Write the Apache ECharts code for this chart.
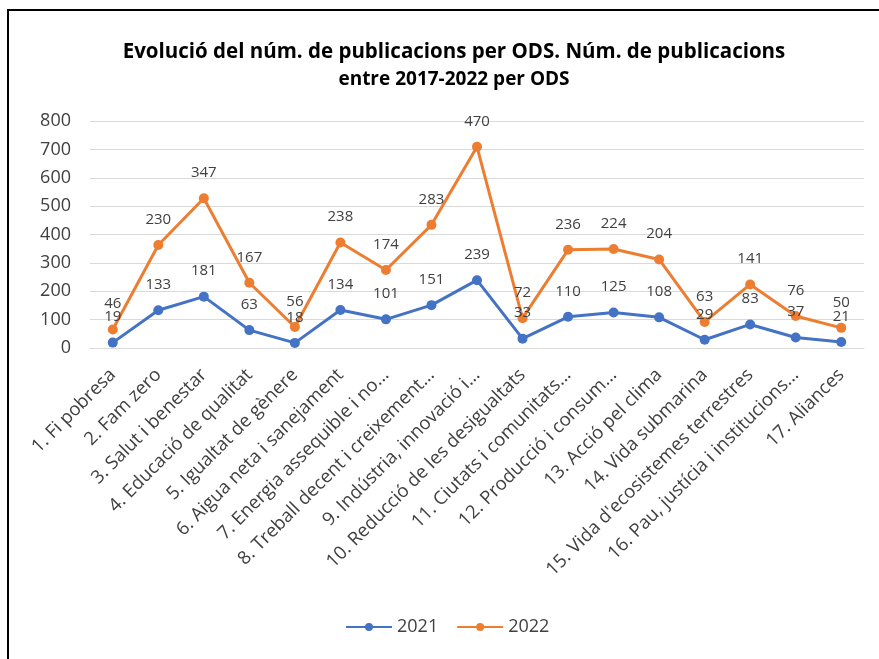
<!DOCTYPE html>
<html>
<head>
<meta charset="utf-8">
<script src="https://cdn.jsdelivr.net/npm/echarts@6/dist/echarts.min.js"></script>
<style>
  html, body { margin: 0; padding: 0; background: #fff; }
  #chart { width: 879px; height: 659px; }
</style>
</head>
<body>
<div id="chart"></div>
<script>
// categories (ODS) as shown on the axis
const categories = [
  '1. Fi pobresa', '2. Fam zero', '3. Salut i benestar', '4. Educació de qualitat',
  '5. Igualtat de gènere', '6. Aigua neta i sanejament', '7. Energia assequible i no...',
  '8. Treball decent i creixement...', '9. Indústria, innovació i...',
  '10. Reducció de les desigualtats', '11. Ciutats i comunitats...',
  '12. Producció i consum...', '13. Acció pel clima', '14. Vida submarina',
  "15. Vida d'ecosistemes terrestres", '16. Pau, justícia i institucions...', '17. Aliances'
]

// values per year (2022 is stacked over 2021)
const values2021 = [19, 133, 181, 63, 18, 134, 101, 151, 239, 33, 110, 125, 108, 29, 83, 37, 21]
const values2022 = [46, 230, 347, 167, 56, 238, 174, 283, 470, 72, 236, 224, 204, 63, 141, 76, 50]

const yTicks = { min: 0, max: 800, interval: 100 }

const textColor = '#404040'
const font = '"Open Sans", sans-serif'

const chart = echarts.init(document.getElementById('chart'))

const labelStyle = {
  show: true,
  position: 'top',
  distance: 13,
  color: textColor,
  fontSize: 15,
  fontFamily: font
}

const option = {
  animation: false,
  title: {
    text: 'Evolució del núm. de publicacions per ODS. Núm. de publicacions',
    subtext: 'entre 2017-2022 per ODS',
    left: 449,
    top: 33,
    itemGap: 0,
    textAlign: 'center',
    textStyle: {
      fontSize: 20.5,
      fontWeight: 'bold',
      color: '#000',
      fontFamily: font,
      lineHeight: 28
    },
    subtextStyle: {
      fontSize: 19,
      fontWeight: 'bold',
      color: '#000',
      fontFamily: font,
      lineHeight: 28
    }
  },
  legend: {
    bottom: 18,
    left: 340,
    itemWidth: 46,
    itemHeight: 10,
    itemGap: 18,
    textStyle: { fontSize: 18, color: textColor, fontFamily: font },
    data: ['2021', '2022']
  },
  grid: { left: 90, right: 15, top: 121, bottom: 311 },
  xAxis: {
    type: 'category',
    data: categories,
    boundaryGap: true,
    axisLine: { lineStyle: { color: '#d9d9d9' } },
    axisTick: { show: false },
    axisLabel: {
      rotate: 45,
      interval: 0,
      margin: 24,
      color: textColor,
      fontSize: 18.5,
      fontFamily: font
    }
  },
  yAxis: {
    type: 'value',
    min: yTicks.min,
    max: yTicks.max,
    interval: yTicks.interval,
    axisLine: { show: false },
    axisTick: { show: false },
    axisLabel: { color: textColor, fontSize: 18, fontFamily: font, margin: 19 },
    splitLine: { lineStyle: { color: '#d9d9d9' } }
  },
  series: [
    {
      name: '2021',
      type: 'line',
      stack: 'total',
      data: values2021,
      symbol: 'circle',
      symbolSize: 10,
      color: '#4472C4',
      lineStyle: { width: 3 },
      label: labelStyle
    },
    {
      name: '2022',
      type: 'line',
      stack: 'total',
      data: values2022,
      symbol: 'circle',
      symbolSize: 10,
      color: '#ED7D31',
      lineStyle: { width: 3 },
      label: labelStyle
    }
  ],
  graphic: [
    { type: 'line', shape: { x1: 7, y1: 10, x2: 879, y2: 10 }, style: { stroke: '#000', lineWidth: 2 } },
    { type: 'line', shape: { x1: 8, y1: 10, x2: 8, y2: 659 }, style: { stroke: '#000', lineWidth: 2 } }
  ]
}

chart.setOption(option)
</script>
</body>
</html>
